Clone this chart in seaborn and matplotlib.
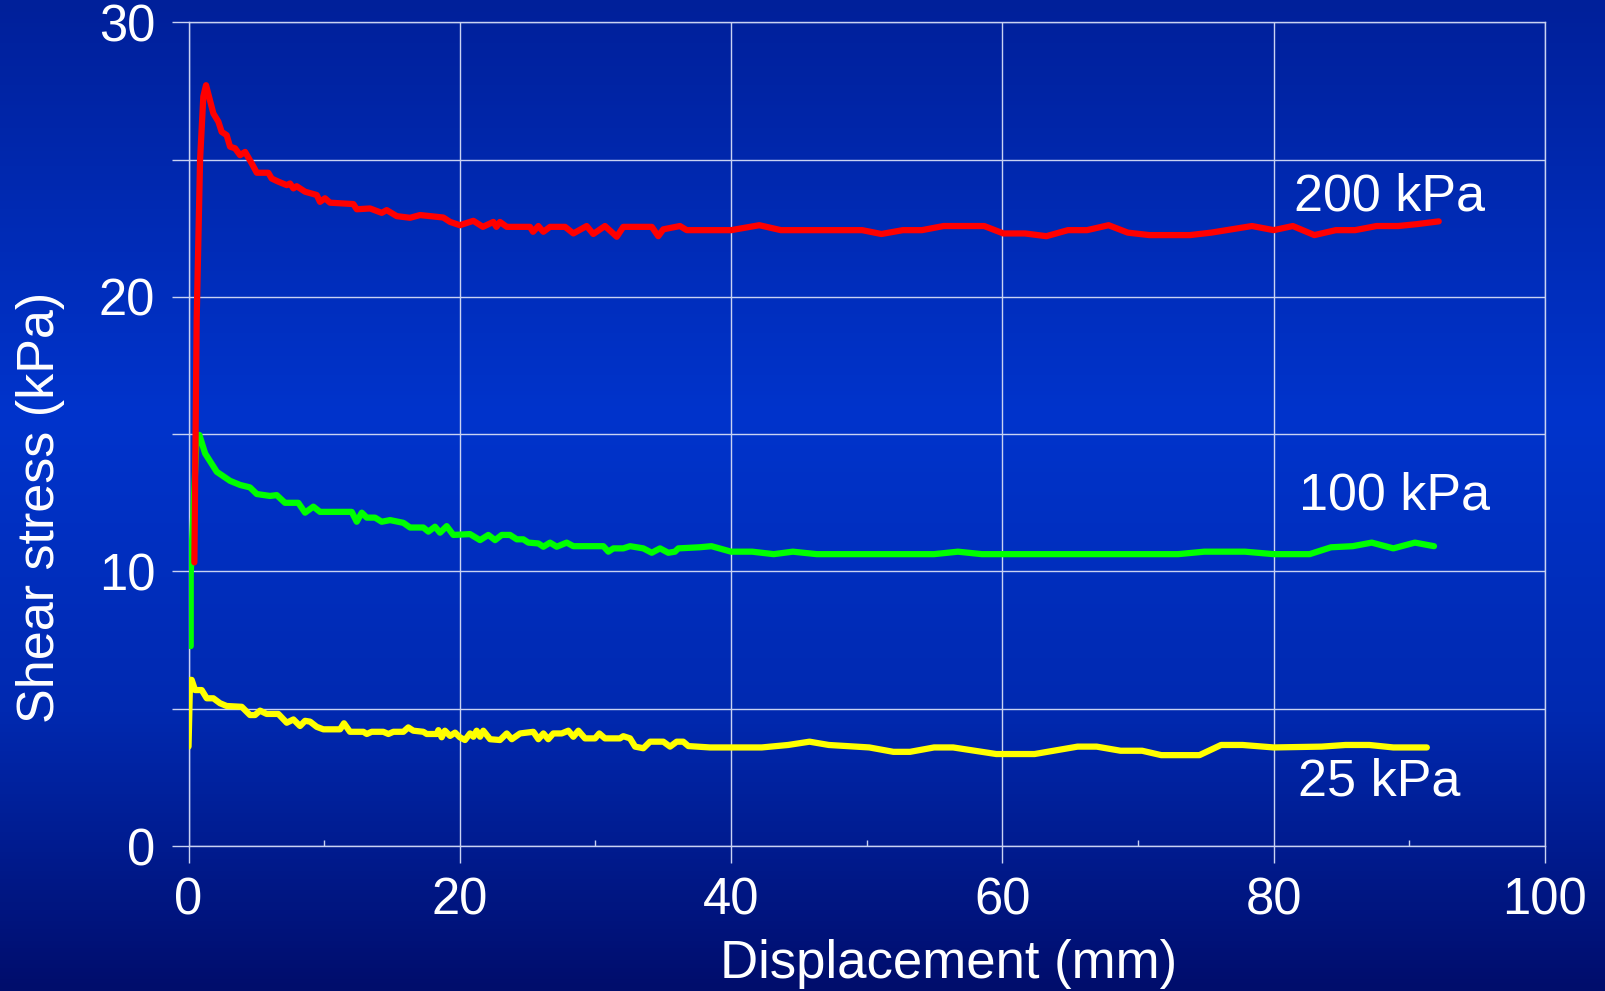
import numpy as np
import pandas as pd
import matplotlib
matplotlib.use('Agg')
import matplotlib.pyplot as plt
import seaborn as sns
from matplotlib.colors import LinearSegmentedColormap

# 200 kPa normal stress
red_x = [0.43, 0.6, 0.85, 1.09, 1.29, 1.83, 2.2, 2.44, 2.81, 3.06, 3.43, 3.8, 4.17, 4.66, 5.03, 5.88,
         6.13, 6.6, 7.24, 7.48, 7.73, 7.97, 8.59, 9.45, 9.69, 10.06, 10.43, 12.15, 12.4, 13.38, 14.24,
         14.61, 15.35, 16.33, 17.07, 18.78, 19.28, 20.0, 21.0, 21.7, 22.47, 22.7, 22.96, 23.46, 25.17,
         25.4, 25.79, 26.16, 26.65, 27.76, 28.37, 29.35, 29.84, 30.7, 31.57, 32.05, 34.15, 34.63, 35.0,
         36.23, 36.73, 38.44, 40.0, 42.08, 43.67, 49.66, 51.08, 52.66, 54.07, 55.66, 58.66, 60.07, 61.66,
         63.24, 64.83, 66.24, 67.83, 69.24, 70.83, 73.83, 75.4, 78.4, 80.0, 81.41, 83.0, 84.58, 86.0,
         87.58, 89.17, 90.58, 92.17]
red_y = [10.33, 19.2, 25.0, 27.3, 27.71, 26.68, 26.38, 26.01, 25.89, 25.47, 25.41, 25.16, 25.28, 24.86, 24.52, 24.52,
         24.31, 24.2, 24.07, 24.13, 23.95, 24.03, 23.83, 23.71, 23.46, 23.59, 23.43, 23.38, 23.19, 23.22, 23.06,
         23.16, 22.94, 22.88, 22.98, 22.89, 22.73, 22.61, 22.77, 22.55, 22.73, 22.55, 22.73, 22.55, 22.55,
         22.37, 22.58, 22.37, 22.55, 22.55, 22.31, 22.58, 22.29, 22.58, 22.19, 22.55, 22.55, 22.21, 22.46,
         22.58, 22.43, 22.43, 22.43, 22.61, 22.43, 22.43, 22.29, 22.43, 22.43, 22.58, 22.58, 22.31, 22.31,
         22.21, 22.43, 22.43, 22.61, 22.34, 22.25, 22.25, 22.34, 22.58, 22.43, 22.58, 22.25, 22.43, 22.43,
         22.58, 22.58, 22.65, 22.75]

# 100 kPa
green_x = [0.16, 0.16, 0.6, 0.8, 1.22, 2.08, 3.06, 3.8, 4.53, 5.03, 6.0, 6.5, 7.11, 8.09, 8.59, 9.2, 9.69,
           12.03, 12.4, 12.77, 13.14, 13.75, 14.24, 14.86, 15.84, 16.33, 17.31, 17.68, 18.17, 18.54, 19.03,
           19.52, 20.75, 21.49, 22.1, 22.6, 23.09, 23.7, 24.2, 24.68, 25.05, 25.79, 26.16, 26.65, 27.14,
           27.88, 28.37, 30.58, 30.95, 31.32, 32.05, 32.55, 33.53, 34.15, 34.76, 35.37, 35.86, 36.11, 37.67,
           38.55, 40.0, 41.55, 43.14, 44.55, 46.31, 54.96, 56.72, 58.48, 72.95, 74.89, 77.88, 80.0, 82.65,
           84.23, 85.82, 87.23, 88.82, 90.41, 91.82]
green_y = [7.28, 9.94, 14.97, 14.97, 14.3, 13.63, 13.3, 13.15, 13.06, 12.82, 12.75, 12.78, 12.5, 12.5, 12.14, 12.36, 12.17,
           12.17, 11.81, 12.14, 11.96, 11.96, 11.81, 11.87, 11.77, 11.6, 11.6, 11.45, 11.63, 11.41, 11.65,
           11.33, 11.36, 11.14, 11.33, 11.14, 11.33, 11.33, 11.17, 11.17, 11.05, 11.02, 10.9, 11.05, 10.9,
           11.05, 10.92, 10.92, 10.72, 10.84, 10.84, 10.92, 10.84, 10.68, 10.84, 10.68, 10.72, 10.84, 10.88,
           10.92, 10.72, 10.72, 10.63, 10.72, 10.63, 10.63, 10.72, 10.63, 10.63, 10.72, 10.72, 10.63, 10.63,
           10.88, 10.92, 11.05, 10.84, 11.05, 10.92]

# 25 kPa
yellow_x = [0.0, 0.11, 0.23, 0.48, 0.97, 1.34, 1.83, 2.32, 2.81, 3.92, 4.53, 4.9, 5.27, 5.76, 6.62, 7.24, 7.73,
            8.22, 8.59, 8.96, 9.45, 9.94, 11.17, 11.46, 11.9, 12.89, 13.14, 13.5, 14.36, 14.73, 15.1, 15.84,
            16.2, 16.57, 17.31, 17.56, 18.3, 18.42, 18.66, 18.9, 19.28, 19.65, 20.0, 20.38, 20.75, 21.0,
            21.24, 21.49, 21.73, 22.23, 22.96, 23.46, 23.83, 24.44, 25.42, 25.79, 26.16, 26.52, 26.89, 27.51,
            28.0, 28.37, 28.74, 29.23, 29.97, 30.28, 30.7, 31.8, 32.05, 32.55, 32.92, 33.53, 34.02, 35.0,
            35.5, 35.99, 36.47, 36.85, 38.44, 42.26, 44.2, 45.78, 47.2, 50.19, 51.96, 53.19, 54.96, 56.37,
            59.55, 62.37, 65.54, 66.95, 68.71, 70.3, 71.71, 74.53, 76.12, 77.71, 80.0, 83.53, 85.29, 87.05,
            88.82, 91.29]
yellow_y = [3.62, 6.05, 6.05, 5.68, 5.68, 5.38, 5.38, 5.2, 5.1, 5.07, 4.77, 4.77, 4.93, 4.81, 4.81, 4.49, 4.61,
            4.37, 4.56, 4.53, 4.34, 4.25, 4.25, 4.47, 4.16, 4.16, 4.08, 4.16, 4.16, 4.08, 4.16, 4.16,
            4.32, 4.2, 4.16, 4.08, 4.08, 4.22, 3.96, 4.2, 4.01, 4.13, 3.96, 3.86, 4.1, 3.98,
            4.2, 3.98, 4.2, 3.89, 3.86, 4.1, 3.89, 4.1, 4.16, 3.89, 4.1, 3.89, 4.1, 4.1,
            4.2, 3.98, 4.2, 3.92, 3.92, 4.1, 3.92, 3.92, 4.0, 3.92, 3.62, 3.56, 3.8, 3.8,
            3.62, 3.8, 3.8, 3.64, 3.59, 3.59, 3.68, 3.8, 3.68, 3.59, 3.43, 3.43, 3.59, 3.59,
            3.35, 3.35, 3.62, 3.62, 3.47, 3.47, 3.31, 3.31, 3.68, 3.68, 3.59, 3.62, 3.68, 3.68,
            3.59, 3.59]

series_names = ['200 kPa', '100 kPa', '25 kPa']
series_colors = ['#ff0000', '#00ff00', '#ffff00']
label_x = [81.47, 81.85, 81.8]
label_y = [23.16, 12.27, 1.83]

x_ticks = [0, 20, 40, 60, 80, 100]
x_ticklabels = ['0', '20', '40', '60', '80', '100']
y_ticks = [0, 5, 10, 15, 20, 25, 30]
y_ticklabels = ['0', '', '10', '', '20', '', '30']

df = pd.concat([
    pd.DataFrame({'disp': red_x, 'stress': red_y, 'load': '200 kPa'}),
    pd.DataFrame({'disp': green_x, 'stress': green_y, 'load': '100 kPa'}),
    pd.DataFrame({'disp': yellow_x, 'stress': yellow_y, 'load': '25 kPa'}),
], ignore_index=True)

sns.set_theme(style='white')
plt.rcParams['font.family'] = ['Liberation Sans', 'DejaVu Sans']

fig = plt.figure(figsize=(16.06, 9.91), dpi=100)

# slide-like blue gradient behind everything
bg = fig.add_axes([0, 0, 1, 1], zorder=0)
cmap = LinearSegmentedColormap.from_list('slide', [(0, '#00209a'), (0.42, '#0034cc'),
                                                   (0.72, '#0029b0'), (1, '#000d6c')])
bg.imshow(np.linspace(0, 1, 256).reshape(-1, 1), aspect='auto', cmap=cmap, extent=[0, 1, 0, 1])
bg.axis('off')

grid_c = '#c9d2f2'
ax = fig.add_axes([0.1174, 0.1463, 0.8446, 0.8312], zorder=1)
ax.set_facecolor('none')

# red drawn last so it sits on top of the green rise, as in the original
sns.lineplot(data=df, x='disp', y='stress', hue='load', hue_order=series_names[::-1],
             palette=dict(zip(series_names, series_colors)),
             estimator=None, sort=False, linewidth=4.5, legend=False, ax=ax, zorder=3)

ax.set_xlim(0, 100)
ax.set_ylim(0, 30)
ax.set_xticks(x_ticks)
ax.set_xticklabels(x_ticklabels)
ax.set_yticks(y_ticks)
ax.set_yticklabels(y_ticklabels)
ax.set_xticks([10, 30, 50, 70, 90], minor=True)
ax.grid(True, which='major', color=grid_c, linewidth=1.0)
ax.tick_params(axis='both', which='major', length=12, width=1.0, color=grid_c,
               labelcolor='white', labelsize=36.5, bottom=True, left=True, direction='out')
ax.tick_params(axis='x', which='major', pad=10)
ax.tick_params(axis='y', which='major', pad=12)
ax.tick_params(axis='x', which='minor', direction='in', length=4, width=1.0, color=grid_c, bottom=True)
for sp in ax.spines.values():
    sp.set_color(grid_c)
    sp.set_linewidth(1.0)
ax.set_xlabel('')
ax.set_ylabel('')

for name, lx, ly in zip(series_names, label_x, label_y):
    ax.text(lx, ly, name, color='white', fontsize=37.5, va='baseline', ha='left', zorder=4)

fig.text(0.5905, 0.0131, 'Displacement (mm)', color='white', fontsize=38, ha='center', va='baseline')
fig.text(0.0255, 0.4884, 'Shear stress (kPa)', color='white', fontsize=37.5, rotation=90,
         ha='center', va='center')

fig.savefig('out.png', dpi=100)
